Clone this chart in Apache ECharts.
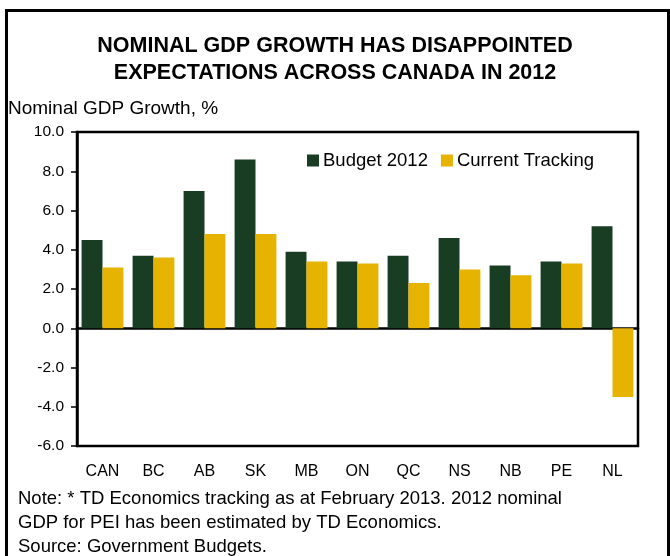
<!DOCTYPE html>
<html><head><meta charset="utf-8">
<script src="https://cdn.jsdelivr.net/npm/echarts@6/dist/echarts.min.js"></script>
<style>html,body{margin:0;padding:0;background:#fff}#c{width:670px;height:556px}</style>
</head><body><div id="c"></div>
<script>
const categories = ['CAN','BC','AB','SK','MB','ON','QC','NS','NB','PE','NL'];
const budget2012 = [4.5,3.7,7.0,8.6,3.9,3.4,3.7,4.6,3.2,3.4,5.2];
const currentTracking = [3.1,3.6,4.8,4.8,3.4,3.3,2.3,3.0,2.7,3.3,-3.5];
const seriesNames = ['Budget 2012','Current Tracking'];
const titleLines = ['NOMINAL GDP GROWTH HAS DISAPPOINTED','EXPECTATIONS ACROSS CANADA IN 2012'];
const axisTitle = 'Nominal GDP Growth, %';
const noteLines = ['Note: * TD Economics tracking as at February 2013. 2012 nominal','GDP for PEI has been estimated by TD Economics.','Source: Government Budgets.'];

const FONT = '"Liberation Sans", Arial, sans-serif';
const chart = echarts.init(document.getElementById('c'));
chart.setOption({
  animation:false,
  textStyle:{fontFamily:FONT,color:'#000'},
  title:{text:titleLines.join('\n'),left:'center',top:28,
    textStyle:{fontFamily:FONT,fontSize:21.5,fontWeight:'bold',lineHeight:27,color:'#000'}},
  legend:{left:302,top:146,itemWidth:12,itemHeight:12,itemGap:13,icon:'rect',
    textStyle:{fontFamily:FONT,fontSize:18.5,color:'#000',padding:[0,0,0,-1]},data:seriesNames},
  grid:{left:77,right:32,top:132,bottom:110,show:true,borderColor:'#000',borderWidth:2.5,containLabel:false},
  xAxis:[{type:'category',data:categories,position:'bottom',
      axisLine:{show:false,onZero:false},axisTick:{show:false},
      axisLabel:{fontFamily:FONT,fontSize:16,color:'#000',margin:18}},
    {type:'category',data:categories,position:'bottom',
      axisLine:{show:true,onZero:true,lineStyle:{color:'#000',width:2.5}},axisTick:{show:false},axisLabel:{show:false}}],
  yAxis:{type:'value',min:-6,max:10,interval:2,
    axisLine:{show:true,lineStyle:{color:'#000',width:2.5}},
    axisTick:{show:true,inside:false,length:6,lineStyle:{color:'#000',width:1.5}},
    splitLine:{show:false},
    axisLabel:{fontFamily:FONT,fontSize:15.5,color:'#000',margin:13,formatter:v=>v.toFixed(1)}},
  series:[
    {name:seriesNames[0],type:'bar',data:budget2012,xAxisIndex:0,barGap:'0%',barCategoryGap:'18%',itemStyle:{color:'#193D23'}},
    {name:seriesNames[1],type:'bar',data:currentTracking,xAxisIndex:0,barGap:'0%',barCategoryGap:'18%',itemStyle:{color:'#E6B400'}}
  ],
  graphic:[
    {type:'rect',shape:{x:6.5,y:10.5,width:662,height:560},style:{fill:null,stroke:'#000',lineWidth:3},silent:true,z:-1},
    {type:'text',left:8,top:99,style:{text:axisTitle,fontFamily:FONT,fontSize:19,fill:'#000'}},
    {type:'text',left:18,top:487,style:{text:noteLines.join('\n'),fontFamily:FONT,fontSize:18.5,lineHeight:24,fill:'#000'}}
  ]
});
</script></body></html>
